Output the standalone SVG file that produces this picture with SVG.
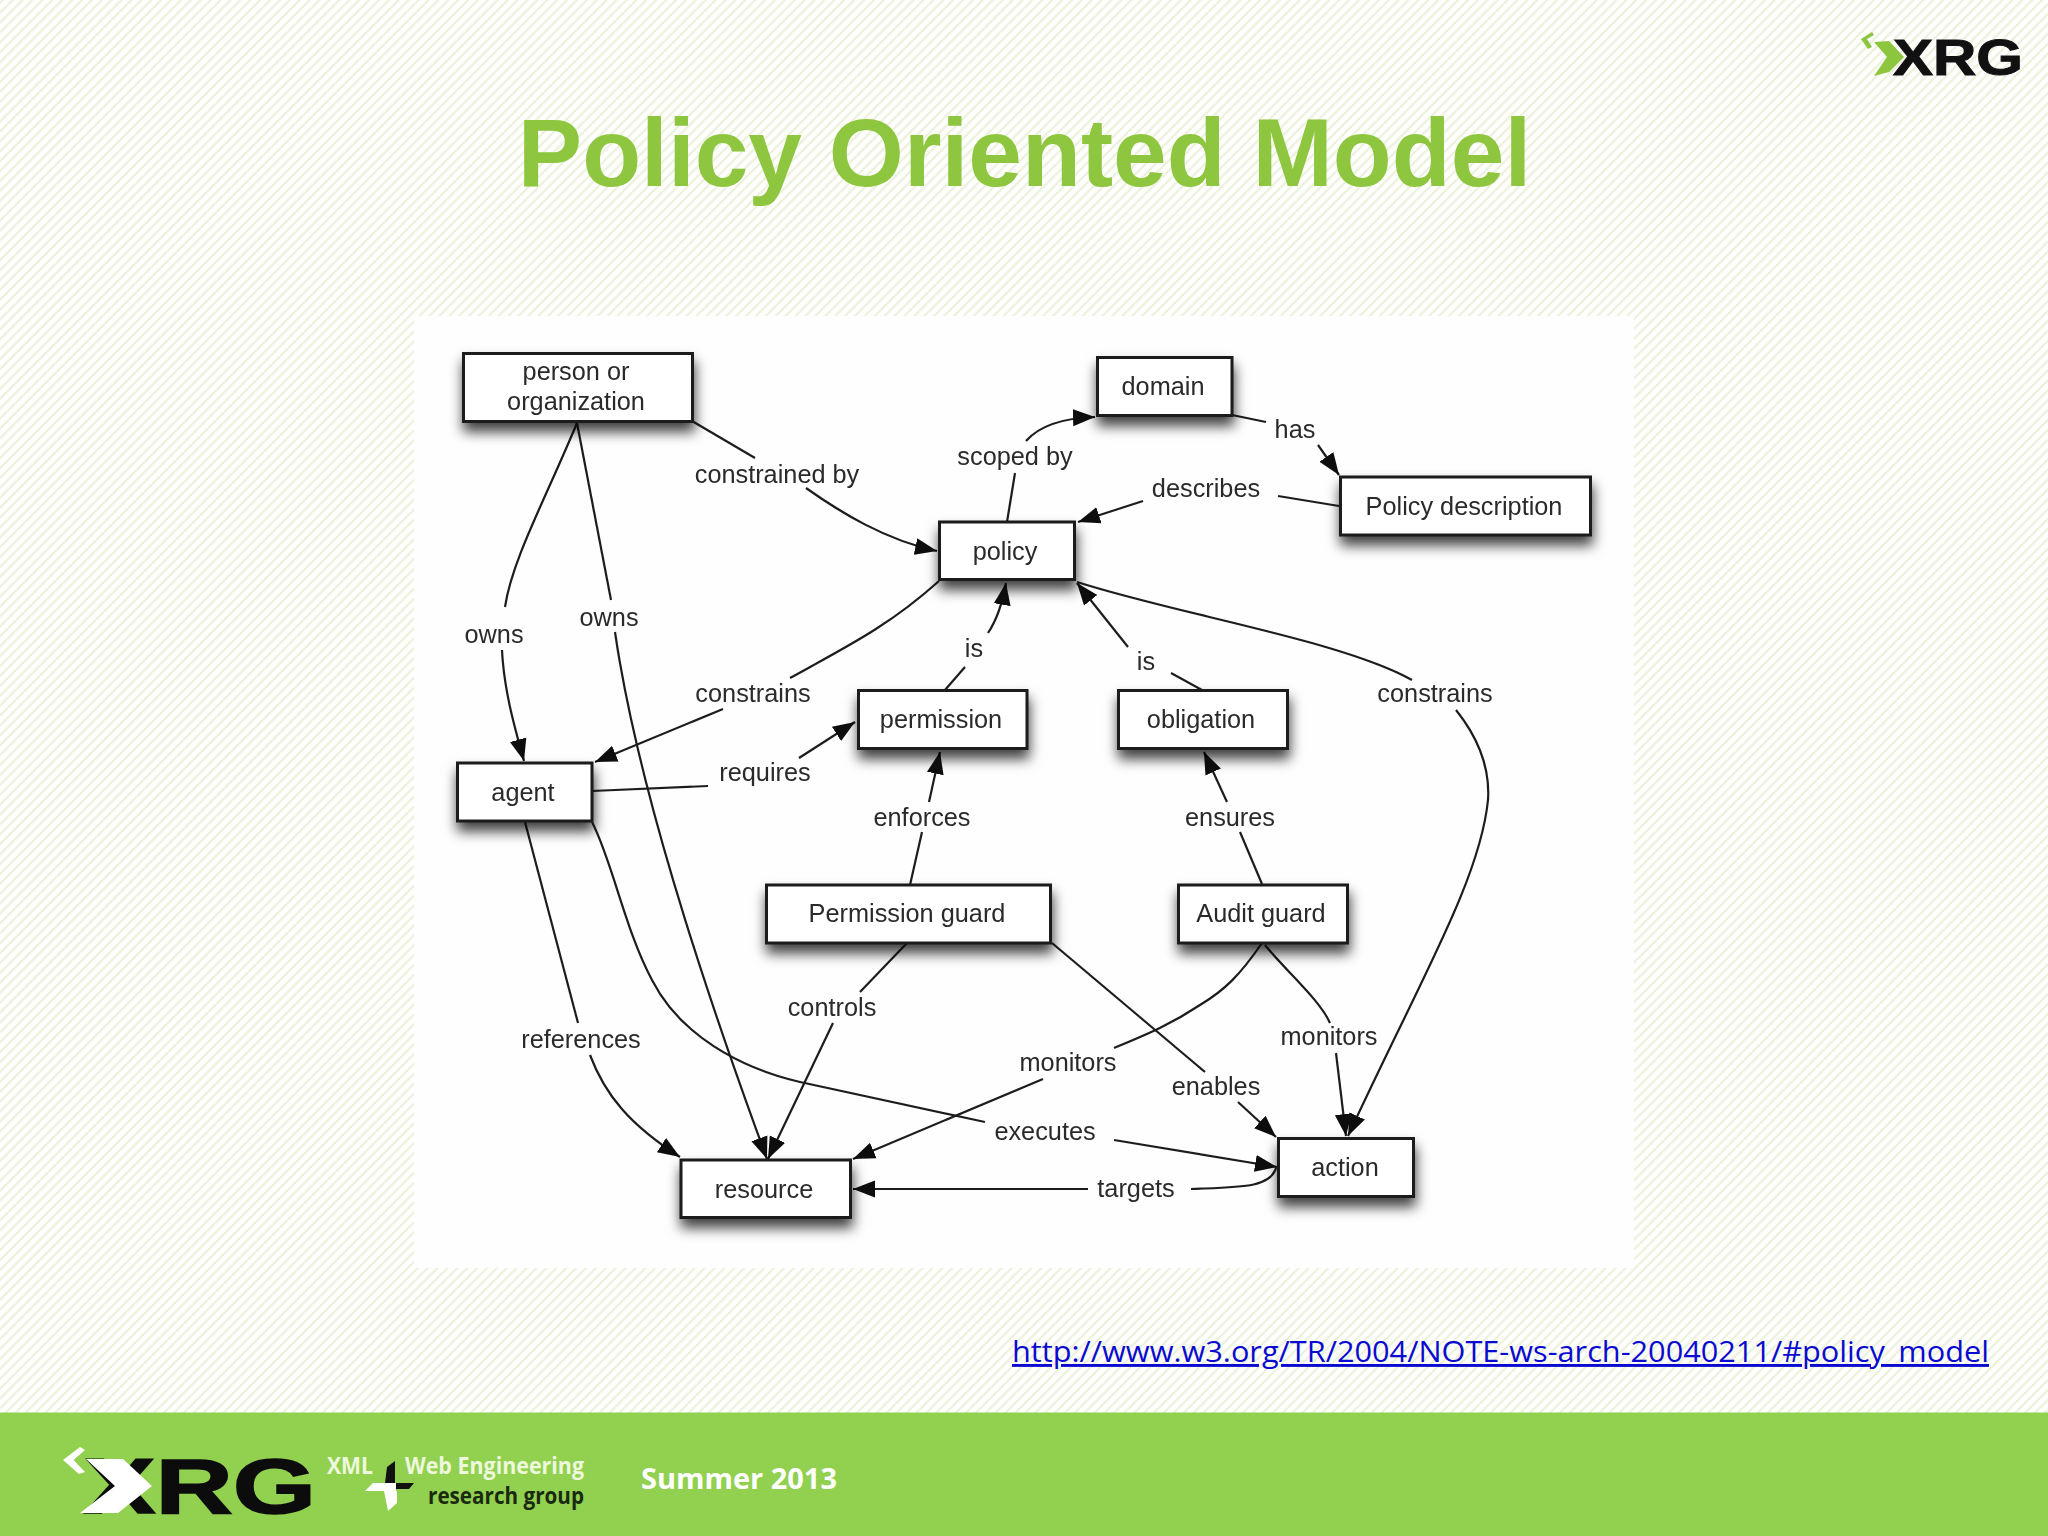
<svg xmlns="http://www.w3.org/2000/svg" width="2048" height="1536" viewBox="0 0 2048 1536">
<style>
.n{fill:#fff;stroke:#1a1a1a;stroke-width:3}
.t{font-family:"Liberation Sans",Arial,sans-serif;font-size:25.3px;fill:#2a2a2a;text-anchor:middle}
.c{fill:none;stroke:#1e1e1e;stroke-width:2.2}
.a{marker-end:url(#arrow)}
.cal{font-family:"Open Sans","Noto Sans",sans-serif}
</style>
<defs>
<pattern id="hatch" patternUnits="userSpaceOnUse" width="7" height="7" patternTransform="rotate(45)">
<rect width="7" height="7" fill="#ffffff"/><line x1="2" y1="0" x2="2" y2="7" stroke="#ebf1da" stroke-width="2.2"/>
</pattern>
<marker id="arrow" markerUnits="userSpaceOnUse" markerWidth="24" markerHeight="20" refX="22" refY="10" orient="auto">
<path d="M0,1.500 L22,10 L0,18.500 Z" fill="#0c0c0c"/>
</marker>
<filter id="sh" x="-20%" y="-30%" width="140%" height="190%">
<feDropShadow dx="1" dy="9" stdDeviation="6.500" flood-color="#000" flood-opacity=".75"/>
</filter>
<filter id="soft" filterUnits="userSpaceOnUse" x="414" y="316" width="1220" height="952"><feGaussianBlur stdDeviation=".5"/></filter>
</defs>

<rect id="background" width="2048" height="1536" fill="url(#hatch)"/>
<rect id="panel" x="414" y="316" width="1220" height="952" fill="#fefefe"/>

<text id="title" x="1024.500" y="185.500" text-anchor="middle" font-family="'Liberation Sans',Arial,sans-serif" font-weight="700" font-size="96.500" fill="#8fc63f">Policy Oriented Model</text>

<g id="logo-top">
<text x="1893" y="75" font-family="'Liberation Sans',Arial,sans-serif" font-weight="700" font-size="50" textLength="130" lengthAdjust="spacingAndGlyphs" fill="#111" stroke="#111" stroke-width="1">XRG</text>
<polygon fill="#8cc63f" points="1874,42 1889,41 1904,57 1889,72 1874,76 1887,57"/>
<polygon fill="#8cc63f" points="1861,39 1872,32 1874,35 1867,39 1872,47 1868,49"/>
</g>

<g id="diagram" filter="url(#soft)">
<g id="connectors">
<path class="c" d="M692,421 L755,458"/>
<path class="c a" d="M806,488 C840,512 885,540 937,551"/>
<path class="c" d="M577,423 C545,500 512,560 505,607"/>
<path class="c a" d="M502,650 C504,690 514,725 524,761"/>
<path class="c" d="M577,423 L611,600"/>
<path class="c a" d="M615,632 C635,770 690,950 767,1159"/>
<path class="c" d="M1007,522 L1015,473"/>
<path class="c a" d="M1026,441 C1040,425 1065,418 1095,417"/>
<path class="c" d="M1232,415 L1266,422"/>
<path class="c a" d="M1318,445 L1339,475"/>
<path class="c" d="M1339,506 L1278,496"/>
<path class="c a" d="M1143,501 L1078,522"/>
<path class="c" d="M939,581 C890,625 850,645 790,678"/>
<path class="c a" d="M723,709 L595,762"/>
<path class="c" d="M592,791 L708,786"/>
<path class="c a" d="M799,758 L855,722"/>
<path class="c" d="M945,690 L965,667"/>
<path class="c a" d="M988,633 C998,618 1003,600 1006,583"/>
<path class="c" d="M1202,690 L1171,673"/>
<path class="c a" d="M1128,647 L1077,583"/>
<path class="c" d="M1077,582 C1180,615 1340,640 1412,680"/>
<path class="c a" d="M1456,710 C1480,740 1490,770 1488,800 C1480,880 1420,980 1348,1136"/>
<path class="c" d="M910,885 L922,832"/>
<path class="c a" d="M929,802 L940,752"/>
<path class="c" d="M1262,884 L1240,832"/>
<path class="c a" d="M1227,802 L1204,752"/>
<path class="c" d="M525,822 L578,1023"/>
<path class="c a" d="M590,1055 C605,1095 630,1125 680,1157"/>
<path class="c" d="M592,822 C612,860 625,930 652,980 C680,1035 740,1068 800,1082 L985,1122"/>
<path class="c a" d="M1114,1140 L1277,1167"/>
<path class="c" d="M907,943 L860,992"/>
<path class="c a" d="M833,1023 L768,1159"/>
<path class="c" d="M1262,943 C1240,975 1225,990 1200,1005 C1170,1025 1145,1035 1114,1048"/>
<path class="c a" d="M1043,1079 L853,1159"/>
<path class="c" d="M1265,945 C1285,970 1320,1000 1330,1023"/>
<path class="c a" d="M1336,1053 L1346,1136"/>
<path class="c" d="M1052,943 L1205,1072"/>
<path class="c a" d="M1238,1102 L1276,1137"/>
<path class="c" d="M1276,1168 C1270,1188 1240,1187 1191,1189"/>
<path class="c a" d="M1088,1189 L853,1189"/>
</g>
<g id="edge-labels">
<text class="t" x="777" y="483">constrained by</text>
<text class="t" x="494" y="643">owns</text>
<text class="t" x="609" y="626">owns</text>
<text class="t" x="1015" y="465">scoped by</text>
<text class="t" x="1295" y="438">has</text>
<text class="t" x="1206" y="497">describes</text>
<text class="t" x="753" y="702">constrains</text>
<text class="t" x="765" y="781">requires</text>
<text class="t" x="974" y="657">is</text>
<text class="t" x="1146" y="670">is</text>
<text class="t" x="1435" y="702">constrains</text>
<text class="t" x="922" y="826">enforces</text>
<text class="t" x="1230" y="826">ensures</text>
<text class="t" x="581" y="1048">references</text>
<text class="t" x="1045" y="1140">executes</text>
<text class="t" x="832" y="1016">controls</text>
<text class="t" x="1068" y="1071">monitors</text>
<text class="t" x="1329" y="1045">monitors</text>
<text class="t" x="1216" y="1095">enables</text>
<text class="t" x="1136" y="1197">targets</text>
</g>
<g id="node-person"><rect class="n" filter="url(#sh)" x="463.500" y="353.500" width="229" height="68"/><text class="t" x="576" y="380">person or</text><text class="t" x="576" y="410">organization</text></g>
<g id="node-domain"><rect class="n" filter="url(#sh)" x="1097.500" y="357.500" width="134.500" height="58"/><text class="t" x="1163" y="395">domain</text></g>
<g id="node-policy-description"><rect class="n" filter="url(#sh)" x="1340.500" y="477" width="250" height="58"/><text class="t" x="1464" y="515">Policy description</text></g>
<g id="node-policy"><rect class="n" filter="url(#sh)" x="939.500" y="522" width="135" height="57.500"/><text class="t" x="1005" y="560">policy</text></g>
<g id="node-permission"><rect class="n" filter="url(#sh)" x="858.500" y="690.500" width="168.500" height="58"/><text class="t" x="941" y="728">permission</text></g>
<g id="node-obligation"><rect class="n" filter="url(#sh)" x="1118.500" y="690.500" width="169" height="58"/><text class="t" x="1201" y="728">obligation</text></g>
<g id="node-agent"><rect class="n" filter="url(#sh)" x="457.500" y="763" width="134.500" height="58"/><text class="t" x="523" y="801">agent</text></g>
<g id="node-permission-guard"><rect class="n" filter="url(#sh)" x="766.500" y="885" width="284" height="58"/><text class="t" x="907" y="922">Permission guard</text></g>
<g id="node-audit-guard"><rect class="n" filter="url(#sh)" x="1178.500" y="885" width="169" height="58"/><text class="t" x="1261" y="922">Audit guard</text></g>
<g id="node-resource"><rect class="n" filter="url(#sh)" x="681" y="1160" width="169.500" height="57.500"/><text class="t" x="764" y="1198">resource</text></g>
<g id="node-action"><rect class="n" filter="url(#sh)" x="1278.500" y="1138.500" width="135" height="58"/><text class="t" x="1345" y="1176">action</text></g>
</g>

<text id="link" x="1012" y="1362" class="cal" font-size="29" textLength="977" lengthAdjust="spacingAndGlyphs" fill="#0a0ad0" text-decoration="underline">http://www.w3.org/TR/2004/NOTE-ws-arch-20040211/#policy_model</text>

<rect id="footer" y="1412.500" width="2048" height="123.500" fill="#92d050"/>
<g id="logo-bottom">
<text x="84" y="1513" font-family="'Liberation Sans',Arial,sans-serif" font-weight="700" font-size="77" textLength="232" lengthAdjust="spacingAndGlyphs" fill="#0c0c0c" stroke="#0c0c0c" stroke-width="1.500">XRG</text>
<polygon fill="#fff" points="86,1459 123,1459 152,1486 118,1513 80,1513 115,1486"/>
<polygon fill="#fff" points="63,1460 80,1447 85,1450 73.500,1460 85,1472 79,1474"/>
<text x="327" y="1474" class="cal" font-weight="700" font-size="24" textLength="46" lengthAdjust="spacingAndGlyphs" fill="#eef8dd">XML</text>
<text x="405" y="1474" class="cal" font-weight="700" font-size="24" textLength="179" lengthAdjust="spacingAndGlyphs" fill="#eef8dd">Web Engineering</text>
<text x="428" y="1504" class="cal" font-weight="700" font-size="24" textLength="156" lengthAdjust="spacingAndGlyphs" fill="#1a2a10">research group</text>
<polygon fill="#111" points="387,1467 395,1461 395,1483 385,1483"/>
<polygon fill="#111" points="396,1483 414,1483 409,1489 396,1489"/>
<polygon fill="#fff" points="373,1483 396,1483 396,1491 365,1491"/>
<polygon fill="#fff" points="384,1491 397,1491 397,1503 388,1511"/>
</g>
<text id="date" x="641" y="1489" class="cal" font-weight="700" font-size="29" textLength="196" lengthAdjust="spacingAndGlyphs" fill="#fff">Summer 2013</text>
</svg>
